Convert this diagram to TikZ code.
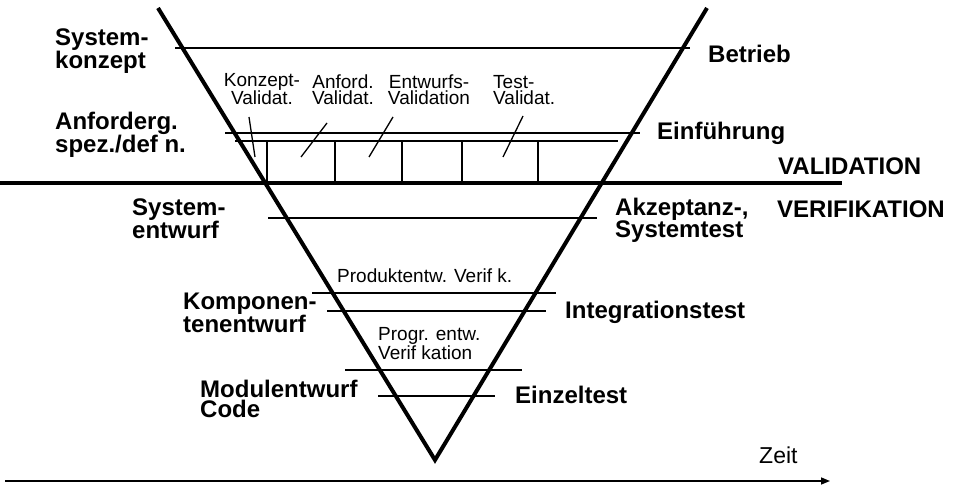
\documentclass[tikz,border=0pt]{standalone}
\usepackage{fontspec}
\setmainfont{Liberation Sans}
\usetikzlibrary{arrows.meta}
\tikzset{
  thin line/.style={line width=1.3pt},
  thick line/.style={line width=4pt},
  % multi-line nodes sit on the baseline of their last line
  phase/.style={font=\bfseries\fontsize{24}{#1}\selectfont, inner sep=0pt, anchor=base west, align=left},
  phase/.default=20,
  check/.style={font=\fontsize{19}{16}\selectfont, inner sep=0pt, anchor=base, align=center},
  checkl/.style={font=\fontsize{19}{16}\selectfont, inner sep=0pt, anchor=base west, align=left},
}
\begin{document}
\begin{tikzpicture}[x=1pt,y=-1pt]
\useasboundingbox (0,0) rectangle (953,486);
% corners of the V
\coordinate (topL) at (158,8);
\coordinate (topR) at (707,8);
\coordinate (apex) at (435,460);

% phase lines across the V
\draw[thin line] (175,48) -- (690,48);
\draw[thin line] (225,133) -- (640,133);
\draw[thin line] (235,141) -- (618,141);
\draw[thin line] (268,218) -- (597,218);
\draw[thin line] (312,293) -- (556,293);
\draw[thin line] (327,311) -- (546,311);
\draw[thin line] (345,370) -- (522,370);
\draw[thin line] (378,396) -- (495,396);

% validation cells
\foreach \x in {267,335,402,462,538}
  \draw[thin line] (\x,141) -- (\x,183);

% the V itself and the validation/verification divide
\draw[thick line, line join=miter] (topL) -- (apex) -- (topR);
\draw[thick line] (0,183) -- (842,183);

% validation labels with their pointers
\node[check] (kv) at (262,105) {Konzept-\\Validat.};
\node[check] (av) at (343,105) {Anford.\\Validat.};
\node[check] (ev) at (429,105) {Entwurfs-\\Validation};
\node[checkl] (tv) at (493,105) {Test-\\Validat.};
\coordinate (kv1) at (249,117); \coordinate (kv2) at (255,157);
\coordinate (av1) at (327,123); \coordinate (av2) at (301,157);
\coordinate (ev1) at (393,117); \coordinate (ev2) at (369,157);
\coordinate (tv1) at (523,116); \coordinate (tv2) at (503,157);
\draw[thin line] (kv1) -- (kv2);
\draw[thin line] (av1) -- (av2);
\draw[thin line] (ev1) -- (ev2);
\draw[thin line] (tv1) -- (tv2);

% verification labels
\node[checkl] (pv) at (337,283) {Produktentw. Verif k.};
\node[checkl] (gv) at (378,359) {Progr. entw.\\Verif kation};

% development phases (left)
\node[phase=19] (sk) at (55,69) {System-\\konzept};
\node[phase=18] (an) at (55,153) {Anforderg.\\spez./def n.};
\node[phase=22] (se) at (132,239) {System-\\entwurf};
\node[phase=20] (ke) at (183,333) {Komponen-\\tenentwurf};
\node[phase=20] (me) at (200,417) {Modulentwurf\\Code};

% test and operation phases (right)
\node[phase] (be) at (708,63) {Betrieb};
\node[phase] (ei) at (657,140) {Einführung};
\node[phase=20] (at) at (615,238) {Akzeptanz-,\\Systemtest};
\node[phase] (it) at (565,319) {Integrationstest};
\node[phase] (et) at (515,403) {Einzeltest};

\node[phase] (val) at (778,175) {VALIDATION};
\node[phase] (ver) at (777,218) {VERIFIKATION};

% time axis
\coordinate (t0) at (5,481);
\coordinate (t1) at (830,481);
\draw[line width=1.5pt, -{Triangle[length=9pt,width=7pt]}] (t0) -- (t1);
\node[font=\fontsize{23}{23}\selectfont, inner sep=0pt, anchor=base west] (zeit) at (759,463) {Zeit};
\end{tikzpicture}
\end{document}
